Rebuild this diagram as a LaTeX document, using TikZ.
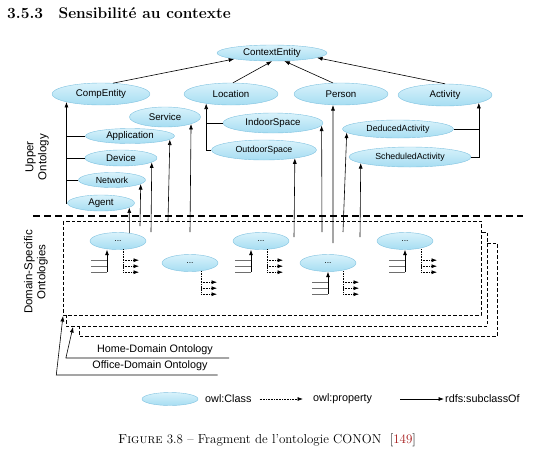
\documentclass[tikz,border=0pt]{standalone}
\usepackage{fontspec}
\newfontfamily\diagfont{Liberation Sans}
\usetikzlibrary{shapes.geometric,calc,arrows.meta}
\definecolor{clstop}{RGB}{216,242,251}
\definecolor{clsbot}{RGB}{166,221,242}
\definecolor{clsline}{RGB}{128,194,224}
\definecolor{combgray}{RGB}{110,110,110}
\definecolor{citered}{RGB}{165,25,25}
\tikzset{
  cls/.style={ellipse, draw=clsline, top color=clstop, bottom color=clsbot, inner sep=0pt, font=\diagfont\fontsize{9.7}{11}\selectfont},
  smallcls/.style={cls, font=\diagfont\fontsize{8.8}{10}\selectfont},
  dom/.style={cls, minimum width=56pt, minimum height=17pt, font=\diagfont\fontsize{8.5}{9}\selectfont},
  sz/.style 2 args={minimum width=#1pt, minimum height=#2pt},
  sub/.style={->, line width=0.6pt},
  prop/.style={->, densely dotted, line width=0.6pt},
  combline/.style={line width=0.6pt, combgray},
  sepline/.style={line width=1.3pt, dash pattern=on 7pt off 4pt},
  dombox/.style={draw, fill=white, line width=0.6pt, dash pattern=on 3.5pt off 2pt},
  lbl/.style={font=\diagfont\fontsize{10.8}{12}\selectfont, inner sep=1pt},
  side/.style={font=\diagfont\fontsize{11.5}{13}\selectfont, rotate=90, align=center},
}
\begin{document}
\begin{tikzpicture}[x=1pt,y=-1pt,>={Latex[length=5.5pt,width=4pt]}]
\useasboundingbox (0,0) rectangle (535,461);
\node[anchor=base west, inner sep=0pt, font=\fontsize{15.5}{18}\selectfont\bfseries] (head) at (7,18) {3.5.3\quad Sensibilit\'e au contexte};

% upper ontology
\node[cls,sz={110}{16}] (ctx) at (272,53) {ContextEntity};
\node[cls,sz={98}{22}] (comp) at (101,94) {CompEntity};
\node[cls,sz={94}{22}] (loc) at (231,94) {Location};
\node[cls,sz={94}{22}] (person) at (341,94) {Person};
\node[cls,sz={94}{22}] (act) at (445,95) {Activity};
\node[cls,sz={71}{20}] (service) at (165,117) {Service};
\node[cls,sz={89}{15}] (appl) at (130,136) {Application};
\node[cls,sz={72}{16}] (device) at (121,158) {Device};
\node[smallcls,sz={67}{15}] (network) at (112,180) {Network};
\node[cls,sz={67}{16}] (agent) at (101,203) {Agent};
\node[cls,sz={100}{20}] (indoor) at (273,123) {IndoorSpace};
\node[smallcls,sz={105}{20}] (outdoor) at (264,150) {OutdoorSpace};
\node[smallcls,sz={111}{18}] (deduced) at (398,129) {DeducedActivity};
\node[smallcls,sz={122}{20}] (sched) at (410,157) {ScheduledActivity};

\draw[sub] (comp.42) -- (ctx.189);
\draw[sub] (loc.80) -- (ctx.south);
\draw[sub] (person.126) -- (ctx.-33);
\draw[sub] (act.north) -- (ctx.-6);

\draw[sub] (agent.west) -| (comp.-167.6);
\foreach \n in {appl,device,network}
    \draw[line width=0.6pt] (\n.west) -- (\n.west -| comp.-167.6);
\draw[sub] (outdoor.west) -| (loc.-159.6);
\draw[line width=0.6pt] (indoor.west) -- (indoor.west -| loc.-159.6);
\draw[sub] (sched.east) -| (act.-13.3);
\draw[line width=0.6pt] (deduced.east) -- (deduced.east -| act.-13.3);

\node[side] (upperlbl) at (37,157) {Upper\\Ontology};
\node[side] (domlbl) at (36,272) {Domain-Specific\\Ontologies};

% domain-specific ontologies
\draw[dombox] (79,243) rectangle (497,336);
\draw[dombox] (66,232) rectangle (487,326);
\draw[dombox] (63,221) rectangle (481,315);
\draw[sepline] (33,216) -- (523,216);

\node[dom] (d1) at (118,241) {...};
\node[dom] (d2) at (190,263) {...};
\node[dom] (d3) at (261,241) {...};
\node[dom] (d4) at (328,263) {...};
\node[dom] (d5) at (405,241) {...};

\coordinate (netfoot) at (140,226);
\coordinate (devfoot) at (151,232);
\coordinate (applfoot) at (168,221);
\coordinate (servfoot) at (190,232);
\coordinate (outfoot) at (294,237);
\coordinate (indfoot) at (322,232);
\coordinate (persfoot) at (333,243);
\coordinate (dedfoot) at (343,232);
\coordinate (schedfoot) at (360,237);

\draw[sub] (d1.35) -- (agent.-9);
\draw[sub] (netfoot) -- (network.-8.4);
\draw[sub] (devfoot) -- (device.-8.4);
\draw[sub] (applfoot) -- (appl.-5.9);
\draw[sub] (servfoot) -- (service.-15.9);
\draw[sub] (outfoot) -- (outdoor.-15.3);
\draw[sub] (indfoot) -- (indoor.-3);
\draw[sub] (persfoot) -- (person.-126.4);
\draw[sub] (dedfoot) -- (deduced.-176);
\draw[sub] (schedfoot) -- (sched.-173.5);

\foreach \n/\s in {d1/-11,d3/-10,d4/0,d5/0}
{
    \draw[sub] ($(\n.south)+(\s,22.5)$) -- ($(\n.south)+(\s,0)$);
    \foreach \yy in {10.5,16.5,22.5}
        \draw[combline] ($(\n.south)+(\s-16,\yy)$) -- ++(16,0);
}
\foreach \n/\d in {d1/5,d2/11,d3/6,d4/15,d5/16}
{
    \draw[densely dotted,line width=0.6pt] ($(\n.south)+(\d,-0.5)$) -- ($(\n.south)+(\d,22.5)$);
    \foreach \yy in {10.5,16.5,22.5}
        \draw[prop] ($(\n.south)+(\d,\yy)$) -- ++(16,0);
}

\node[lbl, anchor=base] (home) at (155,352) {Home-Domain Ontology};
\node[lbl, anchor=base] (office) at (150,368) {Office-Domain Ontology};
\coordinate (homebox) at (73,327);
\coordinate (officebox) at (63,316);
\draw[sub] ($(home.base east)+(15,6)$) -- ($(home.base west)+(-30,6)$) -- (homebox);
\draw[sub] ($(office.base east)+(9,7)$) -- ($(office.base west)+(-35,7)$) -- (officebox);

% legend
\node[cls,sz={56}{13}] (legcls) at (170,399) {};
\node[lbl, anchor=west] (legclass) at (204,399) {owl:Class};
\node[lbl, anchor=west] (legprop) at (312,399) {owl:property};
\node[lbl, anchor=west] (legsub) at (444,399) {rdfs:subclassOf};
\draw[prop] ($(legclass.east)+(7,0)$) -- ($(legprop.west)+(-9,0)$);
\draw[sub] ($(legprop.east)+(27,0)$) -- (legsub.west);

\node[font=\fontsize{13}{15}\selectfont] (caption) at (267,440) {\textsc{Figure} 3.8 -- Fragment de l'ontologie CONON~~[\textcolor{citered}{149}]};
\end{tikzpicture}
\end{document}
